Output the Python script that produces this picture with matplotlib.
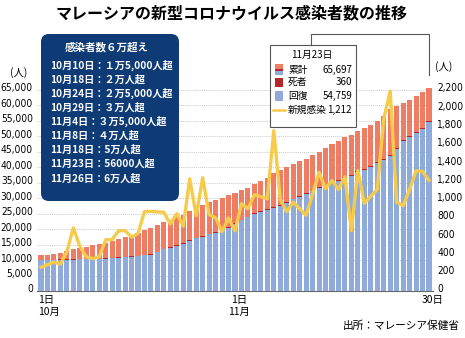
import matplotlib.pyplot as plt
from matplotlib import font_manager
from matplotlib.patches import FancyBboxPatch, Rectangle
from matplotlib.lines import Line2D
from matplotlib.transforms import ScaledTranslation

plt.rcParams['font.family'] = ['Noto Sans CJK JP', 'DejaVu Sans']

# data: Oct 1 .. Nov 30
days = list(range(61))
total = [11484, 11771, 12088, 12381, 12813, 13504, 13993, 14368, 14722, 15096,
         15657, 16220, 16880, 17540, 18129, 18758, 19627, 20498, 21363, 22225,
         22957, 23804, 24514, 25742, 26565, 27805, 28640, 29441, 30090, 30889,
         31548, 32505, 33405, 34459, 35491, 36500, 38255, 39255, 40124, 41104,
         42004, 42834, 43844, 45094, 46214, 47424, 48534, 49734, 50394, 51714,
         52674, 53714, 54824, 56658, 58846, 59816, 60751, 61861, 63176, 64485,
         65697]
recovered = [9900, 9950, 10000, 10050, 10100, 10150, 10200, 10250, 10300, 10350,
             10500, 10650, 10800, 10950, 11100, 11300, 11500, 11800, 12500, 13500,
             14000, 14600, 15200, 16200, 17000, 17500, 18300, 18900, 19700, 20500,
             21700, 22800, 23800, 25000, 25500, 26300, 26900, 27500, 28500, 29600,
             30400, 31300, 32200, 33200, 34000, 34900, 35700, 36400, 37200, 38400,
             39200, 40200, 41300, 42500, 43800, 46000, 48500, 49700, 51000, 52400,
             54759]
deaths = [136, 136, 137, 137, 137, 141, 141, 146, 146, 152,
          155, 157, 159, 163, 167, 169, 176, 178, 187, 190,
          193, 199, 204, 214, 221, 229, 229, 238, 246, 249,
          249, 251, 255, 260, 262, 264, 267, 271, 277, 286,
          288, 292, 296, 300, 302, 303, 305, 308, 310, 312,
          317, 318, 320, 327, 329, 335, 340, 344, 349, 355,
          360]
new_cases = [260, 287, 317, 293, 432, 691, 489, 375, 354, 374,
             561, 563, 660, 660, 589, 629, 869, 871, 865, 862,
             732, 847, 710, 1228, 823, 1240, 835, 801, 649, 799,
             659, 957, 900, 1054, 1032, 1009, 1755, 1000, 869, 972,
             900, 830, 1060, 1300, 1120, 1210, 1110, 1250, 660, 1320,
             960, 1040, 1110, 1884, 2188, 970, 935, 1110, 1315, 1309,
             1212]

x_ticks = [0, 31, 60]
x_labels = ['1日\n10月', '1日\n11月', '30日']
left_ticks = list(range(0, 65001, 5000))
right_ticks = list(range(0, 2201, 200))

milestones = ['10月10日：１万5,000人超', '10月18日：２万人超', '10月24日：２万5,000人超',
              '10月29日：３万人超', '11月4日：３万5,000人超', '11月8日：４万人超',
              '11月18日：5万人超', '11月23日：56000人超', '11月26日：6万人超']

BLUE = '#8EABDB'
RED = '#EF7D64'
DARK = '#B3282C'
YEL = '#F6CB4C'
NAVY = '#0E3B76'

# narrow font for the axis numbers, if one is around
installed = {f.name for f in font_manager.fontManager.ttflist}
if 'Liberation Sans Narrow' in installed:
    num_font = dict(fontfamily='Liberation Sans Narrow', fontsize=8.5)
elif 'DejaVu Sans Condensed' in installed:
    num_font = dict(fontfamily='DejaVu Sans Condensed', fontsize=7.6)
else:
    num_font = dict(fontfamily='DejaVu Sans', fontstretch='condensed', fontsize=7.3)

W, H = 465, 338
fig = plt.figure(figsize=(W / 100, H / 100), dpi=100)
tr = fig.dpi_scale_trans


def P(x, y):
    return x / 100, (H - y) / 100


def T(x, y, s, **kw):
    return fig.text(x / 100, (H - y) / 100, s, transform=tr, **kw)


ax = fig.add_axes([37 / W, 1 - 291 / H, (433 - 37) / W, (291 - 86.9) / H])
ax.bar(days, total, width=0.78, color=RED, zorder=2)
ax.bar(days, deaths, bottom=recovered, width=0.78, color=DARK, zorder=3)
ax.bar(days, recovered, width=0.78, color=BLUE, zorder=4)
ax.set_xlim(-0.62, 60.62)
ax.set_ylim(0, 66000)
ax.set_yticks(left_ticks)
ax.set_yticklabels([f'{v:,}' for v in left_ticks], **num_font)
ax.set_xticks(x_ticks)
ax.set_xticklabels(x_labels, fontsize=7.5, linespacing=1.25)
ax.tick_params(length=0, pad=3)
ax.tick_params(axis='x', pad=3)
shifts = [(-3, 'left'), (-2, 'center'), (4, 'center')]
for lab, (dx, ha) in zip(ax.get_xticklabels(), shifts):
    lab.set_ha(ha)
    lab.set_transform(lab.get_transform() + ScaledTranslation(dx / 100, 0, tr))
ax.set_axisbelow(True)
ax.yaxis.grid(True, linestyle=(0, (1, 1.5)), color='#b5b5b5', linewidth=0.6)
for s in ['top', 'left', 'right']:
    ax.spines[s].set_visible(False)
ax.spines['bottom'].set_color('#666666')
ax.spines['bottom'].set_linewidth(0.8)

ax2 = ax.twinx()
ax2.plot(days, new_cases, color=YEL, lw=2.4, zorder=5)
ax2.set_ylim(0, 2200 * 66000 / 65000)
ax2.set_yticks(right_ticks)
ax2.set_yticklabels([f'{v:,}' for v in right_ticks], **num_font)
ax2.tick_params(length=0, pad=3)
for s in ax2.spines.values():
    s.set_visible(False)

# lift the value labels a little, as in the original
for lab in ax.get_yticklabels() + ax2.get_yticklabels():
    lab.set_transform(lab.get_transform() + ScaledTranslation(0, 2.5 / 100, tr))

# title and units
T(232, 13, 'マレーシアの新型コロナウイルス感染者数の推移', ha='center', va='center',
  fontsize=11.5, fontweight='bold')
T(19, 73, '(人)', ha='center', va='center', fontsize=7.5)
T(444, 67, '(人)', ha='center', va='center', fontsize=7.5)
T(460, 326, '出所：マレーシア保健省', ha='right', va='center', fontsize=7.7)

# milestone box
x0, y0 = P(41, 201)
box = FancyBboxPatch((x0, y0), 1.38, 1.67, boxstyle='round,pad=0,rounding_size=0.08',
                     fc=NAVY, ec='none', transform=tr)
fig.add_artist(box)
T(107, 47, '感染者数６万超え', ha='center', va='center', color='white',
  fontsize=7.6, fontweight='bold')
for k, t in enumerate(milestones):
    T(50, 65 + 14.15 * k, t, ha='left', va='center', color='white',
      fontsize=7.3, fontweight='bold')

# legend box with bracket
bx = [P(311, 45), P(311, 34), P(429, 34), P(429, 75)]
fig.add_artist(Line2D([p[0] for p in bx], [p[1] for p in bx], color='#555555', lw=0.8,
                      transform=tr))
lx, ly = P(269.5, 127)
fig.add_artist(Rectangle((lx, ly), 0.86, 0.82, fc='white', ec='#555555', lw=0.8,
                         transform=tr))
T(312, 54.5, '11月23日', ha='center', va='center', fontsize=7)


def swatch(ytop, ybot, color):
    a, b = P(275, ybot)
    fig.add_artist(Rectangle((a, b), 0.083, (ybot - ytop) / 100, fc=color, ec='none',
                             transform=tr))


swatch(63.5, 69.3, RED)
swatch(69.3, 70.7, DARK)
swatch(70.7, 75, BLUE)
swatch(77.5, 87, DARK)
swatch(91, 101, BLUE)
a, b = P(273, 110)
c, _ = P(285, 110)
fig.add_artist(Line2D([a, c], [b, b], color=YEL, lw=1.8, transform=tr))

rows = [('累計', f'{total[-1]:,}', 69.5), ('死者', f'{deaths[-1]:,}', 82),
        ('回復', f'{recovered[-1]:,}', 96), ('新規感染', f'{new_cases[-1]:,}', 110)]
for name, val, yy in rows:
    T(288, yy, name, ha='left', va='center', fontsize=7)
    T(352, yy, val, ha='right', va='center', fontsize=7)

fig.savefig('out.png', dpi=100)
